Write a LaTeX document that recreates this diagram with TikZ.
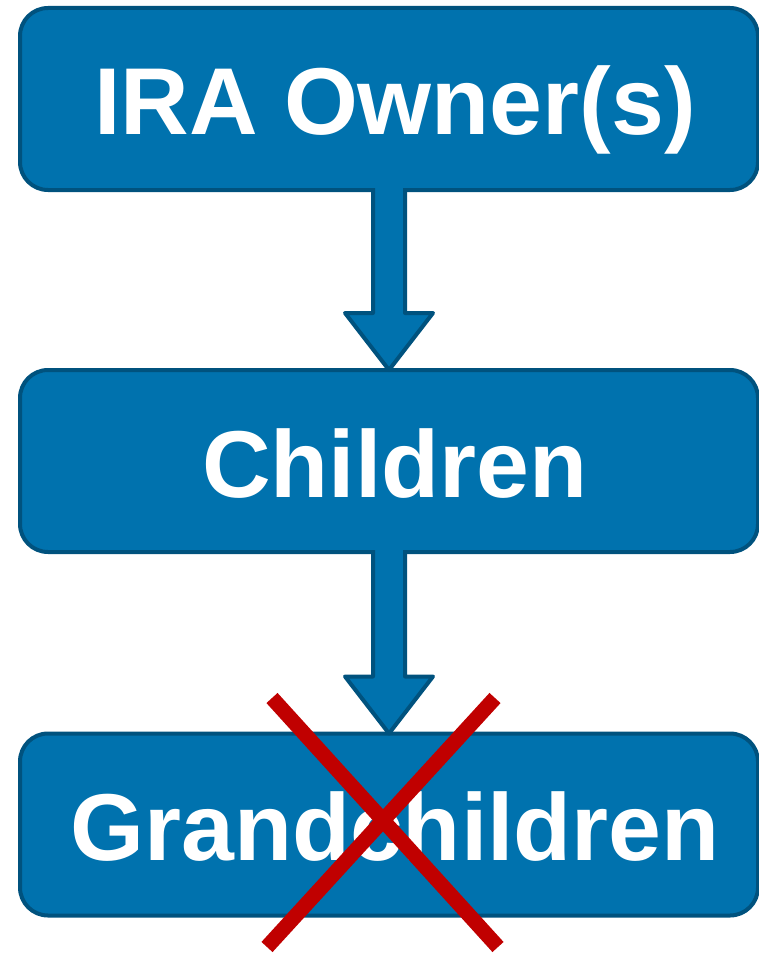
\documentclass[tikz,border=0pt]{standalone}
\usepackage{fontspec}
\setmainfont{Liberation Sans}
\usetikzlibrary{calc}
\definecolor{boxfill}{RGB}{0,114,174}
\definecolor{boxline}{RGB}{0,82,126}
\definecolor{crossred}{RGB}{192,0,0}
\tikzset{
  box/.style={draw=boxline, fill=boxfill, line width=4pt, rounded corners=28pt,
    minimum width=738pt, minimum height=182pt, inner sep=0pt, outer sep=0pt},
  lbl/.style={anchor=base, text=white, inner sep=0pt,
    font=\fontsize{95pt}{100pt}\selectfont\bfseries},
  blockarrow/.style={draw=boxline, fill=boxfill, line width=4pt, line join=round},
  cross/.style={draw=crossred, line width=15pt, line cap=butt}
}
\begin{document}
\begin{tikzpicture}[x=1pt,y=-1pt]
\useasboundingbox (0,0) rectangle (758,955);
\node[box] (owner) at (389,99) {};
\node[box] (children) at (389,461) {};
\node[box] (grand) at (389,824.5) {};
\node[lbl] (ownerT) at (395,135) {IRA Owner(s)};
\node[lbl] (childrenT) at (395,497) {Children};
\node[lbl] (grandT) at (395,860) {Grandchildren};
% block arrows
\draw[blockarrow] ($(owner.south)+(-16,-2)$) -- ($(children.north)+(-16,-57)$)
  -- ($(children.north)+(-44,-57)$) -- (children.north)
  -- ($(children.north)+(44,-57)$) -- ($(children.north)+(16,-57)$)
  -- ($(owner.south)+(16,-2)$);
\draw[blockarrow] ($(children.south)+(-16,-2)$) -- ($(grand.north)+(-16,-57)$)
  -- ($(grand.north)+(-44,-57)$) -- (grand.north)
  -- ($(grand.north)+(44,-57)$) -- ($(grand.north)+(16,-57)$)
  -- ($(children.south)+(16,-2)$);
% red cross
\draw[cross] (272,698) -- (498,947);
\draw[cross] (495,698) -- (267,947);
\end{tikzpicture}
\end{document}
